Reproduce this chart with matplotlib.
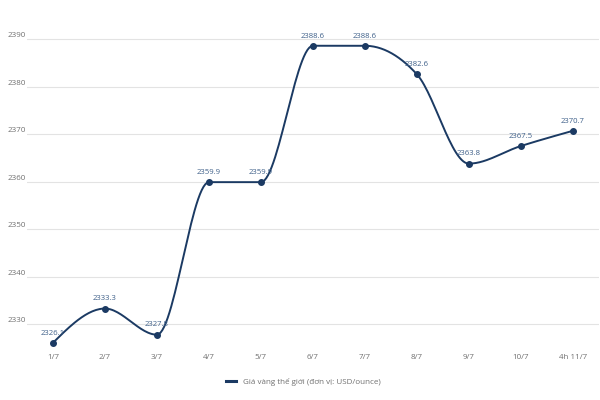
import numpy as np
import matplotlib
matplotlib.use("Agg")
import matplotlib.pyplot as plt
from matplotlib.lines import Line2D

categories = ["1/7", "2/7", "3/7", "4/7", "5/7", "6/7", "7/7", "8/7", "9/7", "10/7", "4h 11/7"]
values = [2326.1, 2333.3, 2327.8, 2359.9, 2359.9, 2388.6, 2388.6, 2382.6, 2363.8, 2367.5, 2370.7]
yticks = [2330, 2340, 2350, 2360, 2370, 2380, 2390]
series_name = "Giá vàng thế giới (đơn vị: USD/ounce)"

LINE = "#1b3a63"
LABEL = "#40618a"
TICK = "#707070"
GRID = "#e3e3e3"

plt.rcParams['font.family'] = ['Open Sans', 'DejaVu Sans']


def monotone_x(x, y, n=30):
    x = np.asarray(x, float)
    y = np.asarray(y, float)
    h = np.diff(x)
    s = np.diff(y) / h
    m = np.zeros_like(y)
    for i in range(1, len(y) - 1):
        if s[i - 1] * s[i] <= 0:
            m[i] = 0
        else:
            p = (s[i - 1] * h[i] + s[i] * h[i - 1]) / (h[i - 1] + h[i])
            m[i] = np.sign(s[i - 1]) * min(abs(s[i - 1]), abs(s[i]), 0.5 * abs(p)) * 2 if False else \
                (np.sign(s[i - 1]) + np.sign(s[i])) * min(abs(s[i - 1]), abs(s[i]), 0.5 * abs(p))
    m[0] = (3 * s[0] - m[1]) / 2 if len(y) > 2 else s[0]
    m[-1] = (3 * s[-1] - m[-2]) / 2 if len(y) > 2 else s[-1]
    xs, ys = [], []
    for i in range(len(h)):
        t = np.linspace(0, 1, n)
        h00 = 2 * t**3 - 3 * t**2 + 1
        h10 = t**3 - 2 * t**2 + t
        h01 = -2 * t**3 + 3 * t**2
        h11 = t**3 - t**2
        xs.append(x[i] + t * h[i])
        ys.append(h00 * y[i] + h10 * h[i] * m[i] + h01 * y[i + 1] + h11 * h[i] * m[i + 1])
    return np.concatenate(xs), np.concatenate(ys)


fig = plt.figure(figsize=(6, 4), dpi=100)
ax = fig.add_axes([0.045, 0.13, 0.953, 0.796])

xpos = np.arange(len(categories))
cx, cy = monotone_x(xpos, values)
ax.plot(cx, cy, color=LINE, lw=1.4, zorder=3, solid_capstyle='round')
ax.scatter(xpos, values, s=16, color=LINE, zorder=4)

for xi, v in zip(xpos, values):
    ax.annotate(f"{v:.1f}", (xi, v), xytext=(0, 4.5), textcoords="offset points",
                ha="center", va="bottom", fontsize=5.6, color=LABEL, zorder=5)

ax.set_xlim(-0.5, len(categories) - 0.5)
ax.set_ylim(2325, 2392)
ax.set_xticks(xpos)
ax.set_xticklabels(categories)
ax.set_yticks(yticks)
ax.tick_params(axis='both', length=0, labelsize=5.8, colors=TICK)
ax.tick_params(axis='x', pad=4)
ax.tick_params(axis='y', pad=1)
for lbl in ax.get_yticklabels():
    lbl.set_verticalalignment('bottom')
ax.grid(axis='y', color=GRID, lw=0.8)
ax.set_axisbelow(True)
for sp in ax.spines.values():
    sp.set_visible(False)

handle = Line2D([0], [0], color=LINE, lw=2.2)
fig.legend([handle], [series_name], loc="center", bbox_to_anchor=(0.505, 0.045),
           frameon=False, fontsize=5.8, handlelength=1.3, labelcolor=TICK)

fig.savefig("out.png", dpi=100, facecolor="white")
